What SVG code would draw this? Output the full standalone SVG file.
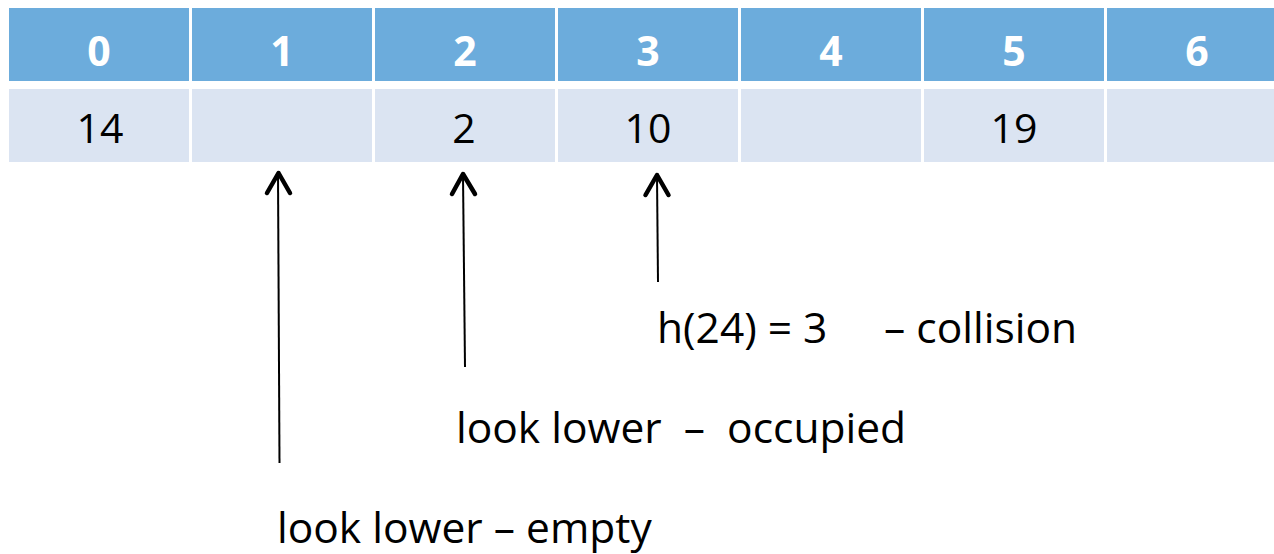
<svg xmlns="http://www.w3.org/2000/svg" width="1274" height="554" viewBox="0 0 1274 554">
<style>
.hd{fill:#6CACDC}
.cl{fill:#DBE4F2}
.ht{font-family:"Open Sans","Liberation Sans",sans-serif;font-weight:bold;font-size:41px;fill:#fff;text-anchor:middle}
.vt{font-family:"Open Sans","Liberation Sans",sans-serif;font-size:41px;fill:#000;text-anchor:middle}
.lb{font-family:"Open Sans","Liberation Sans",sans-serif;font-size:42.5px;fill:#000}
.ln{stroke:#000;stroke-width:2;fill:none}
.ah{stroke:#000;stroke-width:4.5;fill:none;stroke-linecap:round;stroke-linejoin:round}
</style>
<rect width="1274" height="554" fill="#fff"/>
<g id="cell0"><rect class="hd" x="9" y="8" width="180" height="73"/><text class="ht" x="99" y="66">0</text><rect class="cl" x="9" y="89" width="180" height="73"/><text class="vt" x="100" y="143">14</text></g>
<g id="cell1"><rect class="hd" x="192" y="8" width="180" height="73"/><text class="ht" x="282" y="66">1</text><rect class="cl" x="192" y="89" width="180" height="73"/></g>
<g id="cell2"><rect class="hd" x="375" y="8" width="180" height="73"/><text class="ht" x="465" y="66">2</text><rect class="cl" x="375" y="89" width="180" height="73"/><text class="vt" x="464" y="143">2</text></g>
<g id="cell3"><rect class="hd" x="558" y="8" width="180" height="73"/><text class="ht" x="648" y="66">3</text><rect class="cl" x="558" y="89" width="180" height="73"/><text class="vt" x="648" y="143">10</text></g>
<g id="cell4"><rect class="hd" x="741" y="8" width="180" height="73"/><text class="ht" x="831" y="66">4</text><rect class="cl" x="741" y="89" width="180" height="73"/></g>
<g id="cell5"><rect class="hd" x="924" y="8" width="180" height="73"/><text class="ht" x="1014" y="66">5</text><rect class="cl" x="924" y="89" width="180" height="73"/><text class="vt" x="1014" y="143">19</text></g>
<g id="cell6"><rect class="hd" x="1107" y="8" width="167" height="73"/><text class="ht" x="1197" y="66">6</text><rect class="cl" x="1107" y="89" width="167" height="73"/></g>
<g id="connectors">
<path class="ln" d="M279.5 463 L278 174"/>
<path class="ah" d="M267 193 L278.5 173 L290 193"/>
<path class="ln" d="M465 367 L463 175"/>
<path class="ah" d="M452 194 L463 174 L475 194"/>
<path class="ln" d="M658 282 L657 176"/>
<path class="ah" d="M645.5 195 L657 175 L668.5 195"/>
</g>
<g id="label-collision"><text class="lb" x="657" y="343">h(24) = 3</text><text class="lb" x="884" y="343">– collision</text></g>
<g id="label-occupied"><text class="lb" x="456" y="443" xml:space="preserve">look lower  –  occupied</text></g>
<g id="label-empty"><text class="lb" x="277" y="543">look lower – empty</text></g>
</svg>
